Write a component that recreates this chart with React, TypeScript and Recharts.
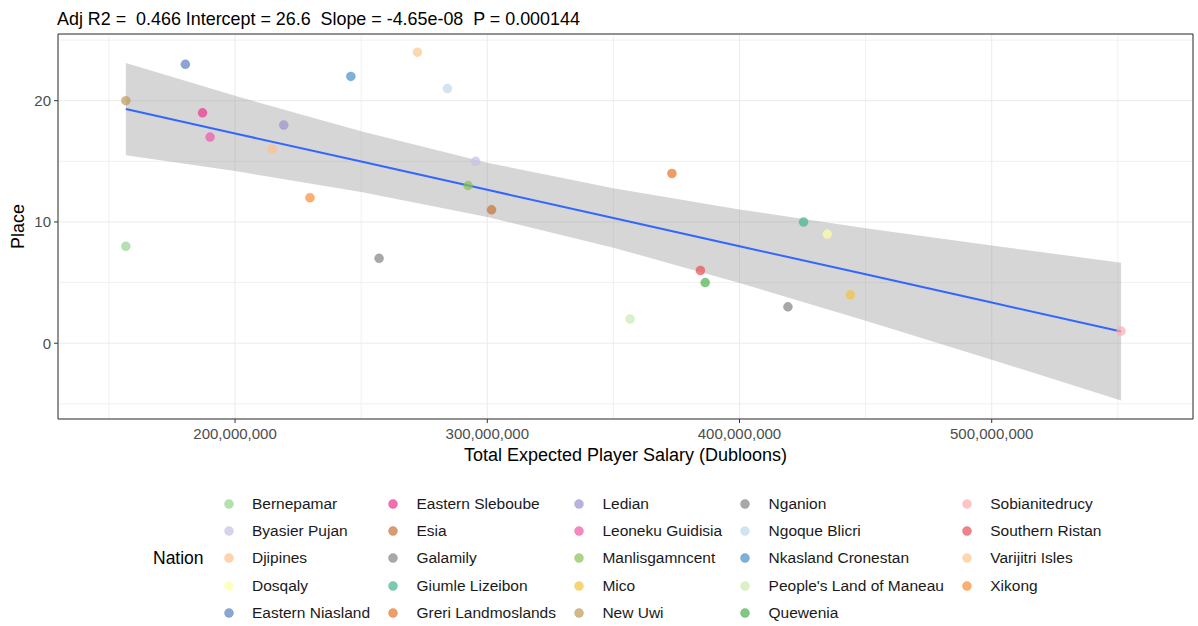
import React from "react";
import {
  ComposedChart, Scatter, Area, Line, XAxis, YAxis, CartesianGrid, ReferenceArea,
} from "recharts";

const FONT = '"Liberation Sans", Arial, sans-serif';

// nations, one point each
const nations = [
  "Bernepamar", "Byasier Pujan", "Djipines", "Dosqaly", "Eastern Niasland",
  "Eastern Sleboube", "Esia", "Galamily", "Giumle Lizeibon", "Greri Landmoslands",
  "Ledian", "Leoneku Guidisia", "Manlisgamncent", "Mico", "New Uwi",
  "Nganion", "Ngoque Blicri", "Nkasland Cronestan", "People's Land of Maneau", "Quewenia",
  "Sobianitedrucy", "Southern Ristan", "Varijitri Isles", "Xikong",
];
const salary = [
  156.7e6, 295.4e6, 214.7e6, 434.8e6, 180.3e6,
  187.1e6, 301.7e6, 257.1e6, 425.4e6, 373.2e6,
  219.3e6, 190.1e6, 292.4e6, 444.0e6, 156.7e6,
  419.2e6, 284.2e6, 245.9e6, 356.6e6, 386.4e6,
  551.3e6, 384.5e6, 272.3e6, 229.7e6,
];
const place = [
  8, 15, 16, 9, 23,
  19, 11, 7, 10, 14,
  18, 17, 13, 4, 20,
  3, 21, 22, 2, 5,
  1, 6, 24, 12,
];
// colours as they look on white (points are drawn at alpha 0.7)
const seen = [
  "#B5E0B0", "#D8D2EC", "#FDD3B0", "#FFFFC0", "#8AA6D2",
  "#F070B0", "#D89C74", "#A8A8A8", "#7CCAB0", "#EE9E68",
  "#B8B2DC", "#F588C0", "#ABD488", "#F8D478", "#D2B888",
  "#A8A8A8", "#D0E4F2", "#7EB0D8", "#DAF0C8", "#80C884",
  "#FFC4C6", "#EE8488", "#FDD8AE", "#FDAE70",
];

// lm fit and 95% band
const bandX = [156.7e6, 200e6, 250e6, 300e6, 350e6, 400e6, 450e6, 500e6, 551.3e6];
const bandLow = [15.5, 14.2, 12.48, 10.41, 7.88, 4.97, 1.86, -1.36, -4.72];
const bandHigh = [23.1, 20.4, 17.47, 14.89, 12.77, 11.03, 9.49, 8.06, 6.64];
const fit = [19.31, 17.3, 14.98, 12.65, 10.33, 8.0, 5.68, 3.35, 0.96];

const xTicks = [200e6, 300e6, 400e6, 500e6];
const xMinor = [150e6, 250e6, 350e6, 450e6, 550e6];
const yTicks = [0, 10, 20];
const yMinor = [-5, 5, 15, 25];
const xDomain = [129.8e6, 579.8e6];
const yDomain = [-6.25, 25.5];

const ALPHA = 0.7;
const unblend = (hex: string) => {
  const c = [1, 3, 5].map((i) => parseInt(hex.slice(i, i + 2), 16));
  const u = c.map((v) => Math.max(0, Math.min(255, Math.round(255 - (255 - v) / ALPHA))));
  return "#" + u.map((v) => v.toString(16).padStart(2, "0")).join("");
};
const colors = seen.map(unblend);

const bandData = bandX.map((x, i) => ({ x, band: [bandLow[i], bandHigh[i]], fit: fit[i] }));

const Dot = (color: string) => (p: any) => (
  <circle cx={p.cx} cy={p.cy} r={4.5} fill={color} fillOpacity={ALPHA}
    stroke={color} strokeOpacity={0.3} strokeWidth={1} />
);

const tickStyle = { fill: "#4D4D4D", fontSize: 15, fontFamily: FONT };

export default function App() {
  const rows = 5;
  const cols: number[][] = [];
  for (let i = 0; i < nations.length; i += rows) {
    cols.push(nations.slice(i, i + rows).map((_, k) => i + k));
  }

  return (
    <div style={{ position: "absolute", left: 0, top: 0, width: 1198, height: 626, background: "#fff", fontFamily: FONT }}>
      <div style={{ position: "absolute", left: 57, top: 9, fontSize: 17.9, lineHeight: "20px", color: "#000", whiteSpace: "pre" }}>
        {"Adj R2 =  0.466 Intercept = 26.6  Slope = -4.65e-08  P = 0.000144"}
      </div>

      <ComposedChart width={1198} height={470} data={bandData}
        margin={{ top: 34, right: 5, left: 0, bottom: 1 }}>
        <XAxis xAxisId="minor" type="number" dataKey="x" domain={xDomain} ticks={xMinor} allowDataOverflow hide />
        <YAxis yAxisId="minor" type="number" domain={yDomain} ticks={yMinor} allowDataOverflow hide />
        <CartesianGrid xAxisId="minor" yAxisId="minor" stroke="#F0F0F0" strokeWidth={1} />
        <XAxis type="number" dataKey="x" domain={xDomain} ticks={xTicks} allowDataOverflow interval={0}
          tickFormatter={(v: number) => v.toLocaleString("en-US")}
          tick={tickStyle} tickLine={{ stroke: "#333" }} axisLine={false} tickSize={4} tickMargin={5} height={50}
          label={{ value: "Total Expected Player Salary (Dubloons)", position: "insideBottom", offset: 8,
            style: { fill: "#000", fontSize: 18, fontFamily: FONT } }} />
        <YAxis type="number" domain={yDomain} ticks={yTicks} allowDataOverflow interval={0}
          tick={tickStyle} tickLine={{ stroke: "#333" }} axisLine={false} tickSize={4} tickMargin={3} width={58}
          label={{ value: "Place", angle: -90, position: "insideLeft", offset: 18,
            style: { fill: "#000", fontSize: 18, fontFamily: FONT, textAnchor: "middle" } }} />
        <CartesianGrid stroke="#EBEBEB" strokeWidth={1} />
        <Area type="linear" dataKey="band" fill="#999999" fillOpacity={0.4} stroke="none" isAnimationActive={false} />
        <Line type="linear" dataKey="fit" stroke="#3366FF" strokeWidth={2} dot={false} isAnimationActive={false} />
        {nations.map((n, i) => (
          <Scatter key={n} name={n} data={[{ x: salary[i], y: place[i] }]} dataKey="y"
            shape={Dot(colors[i])} isAnimationActive={false} />
        ))}
        <ReferenceArea x1={xDomain[0]} x2={xDomain[1]} y1={yDomain[0]} y2={yDomain[1]}
          fill="none" stroke="#333" strokeWidth={1} ifOverflow="visible" />
      </ComposedChart>

      <div style={{ position: "absolute", left: 153, top: 490, display: "flex", alignItems: "center" }}>
        <div style={{ fontSize: 17.5, color: "#000", marginRight: 19 }}>Nation</div>
        <div style={{ display: "flex", gap: 17 }}>
          {cols.map((col, ci) => (
            <div key={ci} style={{ display: "flex", flexDirection: "column" }}>
              {col.map((i) => (
                <div key={i} style={{ height: 27.3, display: "flex", alignItems: "center" }}>
                  <svg width={12} height={12} style={{ flex: "none" }}>
                    <circle cx={6} cy={6} r={4.5} fill={colors[i]} fillOpacity={ALPHA}
                      stroke={colors[i]} strokeOpacity={0.3} strokeWidth={1} />
                  </svg>
                  <span style={{ marginLeft: 17.4, fontSize: 15.5, color: "#1A1A1A", whiteSpace: "nowrap" }}>{nations[i]}</span>
                </div>
              ))}
            </div>
          ))}
        </div>
      </div>
    </div>
  );
}
